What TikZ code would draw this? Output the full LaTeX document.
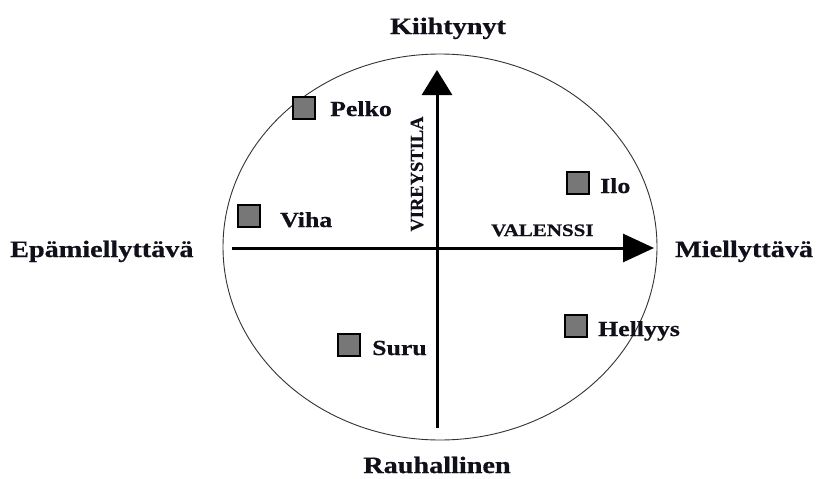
\documentclass[tikz,border=0pt]{standalone}
\usepackage{fontspec}
\newfontfamily\lbl[FakeStretch=1.2,FakeBold=0.6]{Liberation Serif}
\newfontfamily\lblplain[FakeBold=0.6]{Liberation Serif}
\usetikzlibrary{arrows.meta}
\definecolor{boxgray}{HTML}{777777}
\definecolor{txt}{HTML}{10101A}
\begin{document}
\begin{tikzpicture}[x=1pt,y=-1pt,
  marker/.style={draw=black,line width=2.8pt,fill=boxgray,minimum size=22pt,inner sep=0pt},
  biglbl/.style={inner sep=0pt,text=txt,font=\lbl\bfseries\fontsize{23.5}{27}\selectfont},
  smalllbl/.style={inner sep=0pt,text=txt,anchor=base west,font=\lbl\bfseries\fontsize{21.5}{25}\selectfont},
  axis/.style={line width=3pt}]
\useasboundingbox (0,0) rectangle (819,479);
\fill[white] (0,0) rectangle (819,479);
% ellipse
\draw[line width=0.9pt,black!80] (440,247) ellipse [x radius=217, y radius=193];
% axis ends
\coordinate (hl) at (232,248);
\coordinate (hr) at (654,248);
\coordinate (vb) at (437,428);
\coordinate (vt) at (437,70);
\draw[axis,-{Triangle[length=31pt,width=28pt]}] (hl) -- (hr);
\draw[axis,-{Triangle[length=25pt,width=30pt]}] (vb) -- (vt);
% axis labels
\node[biglbl,anchor=base] (kii) at (448,34) {Kiihtynyt};
\node[biglbl,anchor=base] (rau) at (437,473) {Rauhallinen};
\node[biglbl,anchor=base west] (epa) at (10,257) {Epämiellyttävä};
\node[biglbl,anchor=base west] (mie) at (675,257) {Miellyttävä};
\node[inner sep=0pt,text=txt,anchor=base west,font=\lbl\bfseries\fontsize{17.5}{21}\selectfont] (val) at (491,236) {VALENSSI};
\node[inner sep=0pt,text=txt,rotate=90,font=\lblplain\bfseries\fontsize{18.5}{22}\selectfont] (vir) at (417,174) {VIREYSTILA};
% emotion markers
\node[marker] (pelkoBox) at (304,108) {};
\node[smalllbl] (pelko) at (330,116) {Pelko};
\node[marker] (vihaBox) at (249,216) {};
\node[smalllbl] (viha) at (280,227) {Viha};
\node[marker] (iloBox) at (578,183) {};
\node[smalllbl] (ilo) at (600,193) {Ilo};
\node[marker] (suruBox) at (349,345) {};
\node[smalllbl] (suru) at (372,355) {Suru};
\node[marker] (hellBox) at (576,326) {};
\node[smalllbl] (hell) at (598,336) {Hellyys};
\end{tikzpicture}
\end{document}
